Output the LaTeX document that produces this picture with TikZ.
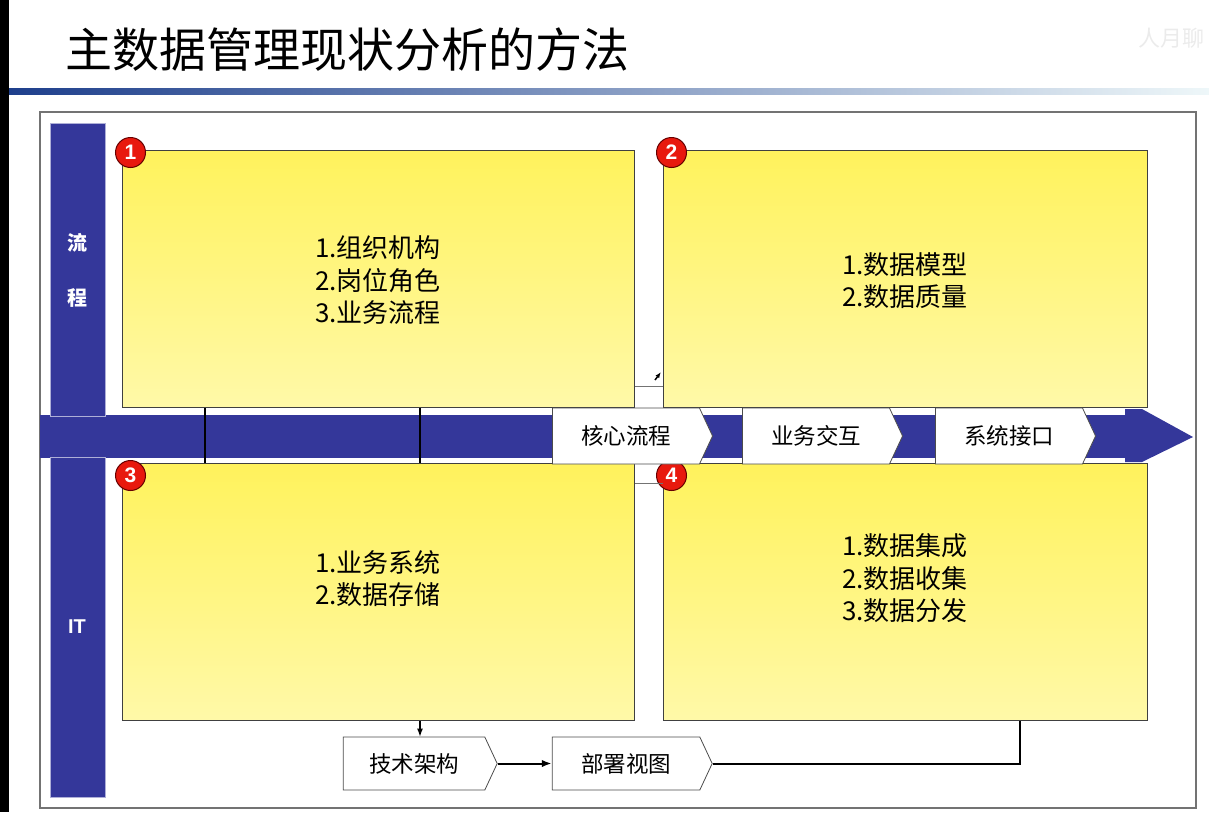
\documentclass[tikz,border=0pt]{standalone}
\usepackage{fontspec}
\setmainfont{Noto Sans CJK SC}
\newfontfamily\numfont{Liberation Sans}
\usepackage{tikz}
\usetikzlibrary{shapes.symbols,arrows.meta,calc}
\usepackage{xcolor}
\definecolor{BandBlue}{HTML}{34379A}
\definecolor{BoxTop}{HTML}{FFF25C}
\definecolor{BoxBottom}{HTML}{FFF9A8}
\definecolor{BadgeRed}{HTML}{E8190E}
\definecolor{RuleDark}{HTML}{1E3F8C}
\definecolor{RuleMid}{HTML}{7AAAC8}
\definecolor{RuleLight}{HTML}{EEF7F9}

\begin{document}
\begin{tikzpicture}[x=1pt,y=-1pt,
    quadbox/.style={draw=black!75,line width=1pt,top color=BoxTop,bottom color=BoxBottom,minimum width=#1,minimum height=257pt,inner sep=0pt},
    quadtext/.style={align=center,font=\fontsize{26}{32.5}\selectfont},
    badge/.style={circle,draw=black!60!red,line width=1pt,fill=BadgeRed,text=white,minimum size=30pt,inner sep=0pt,font=\numfont\bfseries\fontsize{21}{21}\selectfont},
    stepsign/.style={signal,signal to=east,signal pointer angle=130,draw=black!70,fill=white,line width=0.8pt,minimum width=#1,minimum height=56pt,inner sep=0pt,font=\fontsize{22.5}{22.5}\selectfont},
    lanebar/.style={fill=BandBlue,draw=BandBlue!40!white,line width=0.8pt},
    lanetext/.style={text=white,font=\bfseries\fontsize{20}{20}\selectfont}
]
    \useasboundingbox (0,0) rectangle (1209,812);
    \fill (0,0) rectangle (9,812);
    \node[anchor=west,font=\fontsize{47}{47}\selectfont] (title) at (62,50) {主数据管理现状分析的方法};
    \node[anchor=east,text=black!8,font=\fontsize{22}{22}\selectfont] (mark) at (1208,38) {人月聊};
    \shade[left color=RuleDark,middle color=RuleMid,right color=RuleLight] (9,88) rectangle (1209,94);
    \draw[black!55,line width=1.2pt] (40,112) rectangle (1196,808);

    \fill[BandBlue] (40,415) rectangle (1125,458);
    \fill[BandBlue] (1125,409) -- (1142,409) -- (1193,437) -- (1142,462) -- (1125,462) -- cycle;
    \draw[lanebar] (50,123) rectangle (105,416);
    \draw[lanebar] (50,457) rectangle (105,797);
    \node[lanetext] (lane1a) at (77,243) {流};
    \node[lanetext] (lane1b) at (77,298) {程};
    \node[lanetext,font=\numfont\bfseries\fontsize{20}{20}\selectfont] (lane2) at (77,627) {IT};
    \draw[line width=2pt] (205,408) -- (205,463);
    \draw[line width=2pt] (420,408) -- (420,463);

    \node[quadbox=512pt] (b1) at (378,278.5) {};
    \node[quadbox=484pt] (b2) at (905,278.5) {};
    \node[quadbox=512pt] (b3) at (378,591.5) {};
    \node[quadbox=484pt] (b4) at (905,591.5) {};
    \node[quadtext] (t1) at ([yshift=-2pt]b1.center) {1.组织机构\\2.岗位角色\\3.业务流程};
    \node[quadtext] (t2) at ([yshift=-2pt]b2.center) {1.数据模型\\2.数据质量};
    \node[quadtext] (t3) at ([yshift=13pt]b3.center) {1.业务系统\\2.数据存储};
    \node[quadtext] (t4) at ([yshift=13pt]b4.center) {1.数据集成\\2.数据收集\\3.数据分发};
    \node[badge] (n1) at ([shift={(9,3)}]b1.north west) {1};
    \node[badge] (n2) at ([shift={(9,3)}]b2.north west) {2};
    \node[badge] (n3) at ([shift={(9,13)}]b3.north west) {3};
    \node[badge] (n4) at ([shift={(9,13)}]b4.north west) {4};

    \node[stepsign=160pt] (s1) at (626,436) {核心流程};
    \node[stepsign=160pt] (s2) at (816,436) {业务交互};
    \node[stepsign=160pt] (s3) at (1009,436) {系统接口};
    \node[stepsign=154pt,minimum height=53pt] (s4) at (414,763.5) {技术架构};
    \node[stepsign=160pt,minimum height=53pt] (s5) at (626,763.5) {部署视图};

    \draw[black!55,line width=1pt] ([yshift=-107.5pt]b1.east) -- ([yshift=-107.5pt]b2.west);
    \draw[line width=1.5pt,-{Latex[length=6pt]}] (655,380) -- (661,372);
    \draw[black!55,line width=1pt] ([yshift=108.5pt]b3.east) -- ([yshift=108.5pt]b4.west);
    \draw[line width=1.2pt,-{Latex[length=8pt]}] (b3.south -| 420,0) -- (s4.north -| 420,0);
    \draw[line width=2pt,-{Latex[length=10pt]}] (s4.east) -- (s5.west);
    \draw[line width=2pt] (s5.east) -| ([xshift=115pt]b4.south);
\end{tikzpicture}
\end{document}
